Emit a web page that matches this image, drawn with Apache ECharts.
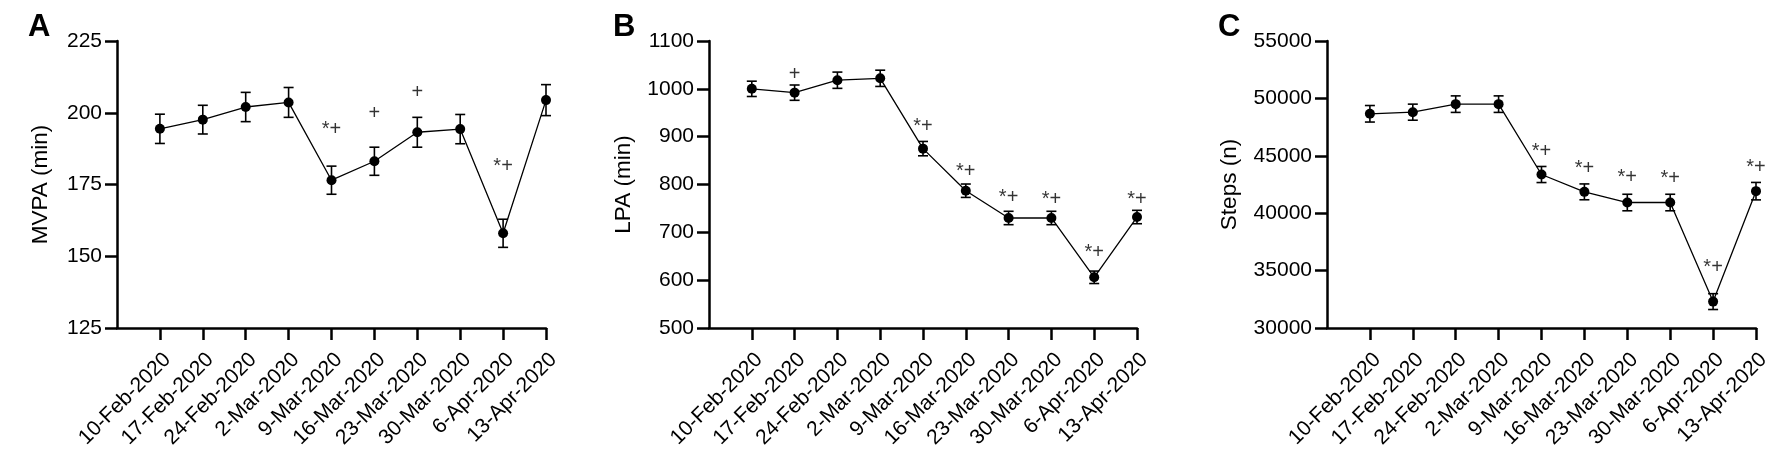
<!DOCTYPE html>
<html>
<head>
<meta charset="utf-8">
<script src="https://cdn.jsdelivr.net/npm/echarts@6/dist/echarts.min.js"></script>
<style>
  html, body { margin: 0; padding: 0; background: #fff; }
  #main { width: 1775px; height: 454px; }
</style>
</head>
<body>
<div id="main"></div>
<script>
// weeks on the x axis
var dates = ['10-Feb-2020', '17-Feb-2020', '24-Feb-2020', '2-Mar-2020', '9-Mar-2020',
    '16-Mar-2020', '23-Mar-2020', '30-Mar-2020', '6-Apr-2020', '13-Apr-2020'];

// A - MVPA (min), mean and error
var mvpaMean = [194.4, 197.6, 202.0, 203.6, 176.5, 183.1, 193.2, 194.3, 158.0, 204.4];
var mvpaErr = [5.1, 5.0, 5.1, 5.2, 4.9, 4.9, 5.2, 5.1, 4.9, 5.4];
var mvpaMark = ['', '', '', '', '*+', '+', '+', '', '*+', ''];
var mvpaMarkAt = [null, null, null, null, 194.2, 199.9, 206.9, null, 181.4, null];
var mvpaTicks = [125, 225, 25];

// B - LPA (min)
var lpaMean = [1000, 992, 1018, 1022, 875, 787, 730, 730, 606, 732];
var lpaErr = [16, 16, 17, 17, 15, 14, 14, 14, 13, 14];
var lpaMark = ['', '+', '', '', '*+', '*+', '*+', '*+', '*+', '*+'];
var lpaMarkAt = [null, 1031, null, null, 921, 828, 772, 768, 657, 768];
var lpaTicks = [500, 1100, 100];

// C - Steps (n)
var stepsMean = [48660, 48800, 49500, 49500, 43370, 41860, 40930, 40930, 32300, 41920];
var stepsErr = [720, 700, 720, 720, 700, 690, 720, 720, 690, 760];
var stepsMark = ['', '', '', '', '*+', '*+', '*+', '*+', '*+', '*+'];
var stepsMarkAt = [null, null, null, null, 45375, 43890, 43100, 43040, 35240, 43950];
var stepsTicks = [30000, 55000, 5000];

var FONT = '"Liberation Sans", Arial, Helvetica, sans-serif';
var chart = echarts.init(document.getElementById('main'));

// category 0 is the corner of the axes, the weeks sit at 1..10
var xCats = [''].concat(dates);

var panels = [
    { letter: 'A', name: 'MVPA (min)', mean: mvpaMean, err: mvpaErr, mark: mvpaMark, markAt: mvpaMarkAt, ticks: mvpaTicks, left: 117, width: 429, gap: 65, lx: 28 },
    { letter: 'B', name: 'LPA (min)', mean: lpaMean, err: lpaErr, mark: lpaMark, markAt: lpaMarkAt, ticks: lpaTicks, left: 709, width: 428, gap: 74, lx: 613 },
    { letter: 'C', name: 'Steps (n)', mean: stepsMean, err: stepsErr, mark: stepsMark, markAt: stepsMarkAt, ticks: stepsTicks, left: 1327, width: 429, gap: 86, lx: 1218 }
];

var grid = [], xAxis = [], yAxis = [], series = [], graphic = [];

panels.forEach(function(p, k) {
    grid.push({ left: p.left, width: p.width, top: 41, height: 287 });

    xAxis.push({
        type: 'category',
        gridIndex: k,
        data: xCats,
        boundaryGap: false,
        axisLine: { lineStyle: { color: '#000', width: 2.5 } },
        axisTick: {
            length: 12,
            lineStyle: { color: '#000', width: 2.5 },
            interval: function(i) { return i > 0; }
        },
        axisLabel: {
            interval: 0,
            rotate: 45,
            margin: 21,
            verticalAlign: 'top',
            color: '#000',
            fontFamily: FONT,
            fontSize: 21
        },
        splitLine: { show: false }
    });

    yAxis.push({
        type: 'value',
        gridIndex: k,
        min: p.ticks[0],
        max: p.ticks[1],
        interval: p.ticks[2],
        name: p.name,
        nameLocation: 'middle',
        nameGap: p.gap,
        nameTextStyle: { color: '#000', fontFamily: FONT, fontSize: 22.5 },
        axisLine: { show: true, lineStyle: { color: '#000', width: 2.5 } },
        axisTick: { show: true, length: 12, lineStyle: { color: '#000', width: 2.5 } },
        axisLabel: {
            margin: 15, color: '#000', fontFamily: FONT, fontSize: 21,
            formatter: function(v) { return String(v); }
        },
        splitLine: { show: false }
    });

    var pts = p.mean.map(function(v, i) { return [i + 1, v]; });
    var bars = p.mean.map(function(v, i) { return [i + 1, v - p.err[i], v + p.err[i]]; });
    var marks = [];
    p.mark.forEach(function(t, i) {
        if (t) marks.push({ name: t, value: [i + 1, p.markAt[i]] });
    });

    // error bars
    series.push({
        type: 'custom',
        xAxisIndex: k,
        yAxisIndex: k,
        data: bars,
        z: 3,
        renderItem: function(params, api) {
            var lo = api.coord([api.value(0), api.value(1)]);
            var hi = api.coord([api.value(0), api.value(2)]);
            var w = 5;
            var st = { stroke: '#000', lineWidth: 1.6 };
            return {
                type: 'group',
                children: [
                    { type: 'line', shape: { x1: lo[0], y1: lo[1], x2: hi[0], y2: hi[1] }, style: st },
                    { type: 'line', shape: { x1: lo[0] - w, y1: lo[1], x2: lo[0] + w, y2: lo[1] }, style: st },
                    { type: 'line', shape: { x1: hi[0] - w, y1: hi[1], x2: hi[0] + w, y2: hi[1] }, style: st }
                ]
            };
        }
    });

    series.push({
        type: 'line',
        xAxisIndex: k,
        yAxisIndex: k,
        data: pts,
        symbol: 'circle',
        symbolSize: 10,
        z: 4,
        itemStyle: { color: '#000' },
        lineStyle: { color: '#000', width: 1.3 }
    });

    // significance marks
    series.push({
        type: 'scatter',
        xAxisIndex: k,
        yAxisIndex: k,
        data: marks,
        symbolSize: 0,
        label: {
            show: true,
            position: 'inside',
            formatter: '{b}',
            color: '#000',
            fontFamily: FONT,
            fontSize: 20
        }
    });

    graphic.push({
        type: 'text',
        left: p.lx,
        top: 12,
        style: { text: p.letter, fill: '#000', font: 'bold 31px ' + FONT }
    });
});

chart.setOption({
    animation: false,
    grid: grid,
    xAxis: xAxis,
    yAxis: yAxis,
    series: series,
    graphic: graphic
});
</script>
</body>
</html>
